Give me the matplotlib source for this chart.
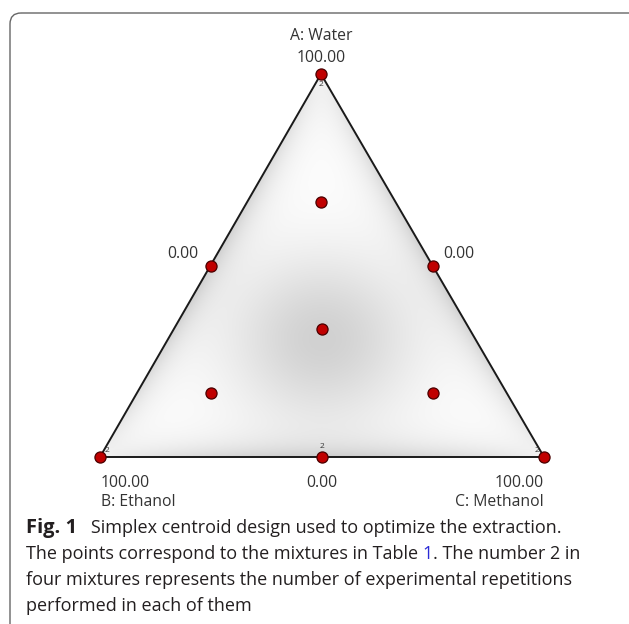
import numpy as np
import matplotlib
matplotlib.use("Agg")
import matplotlib.pyplot as plt
from matplotlib.patches import Polygon, FancyBboxPatch

# Mixture proportions (A: Water, B: Ethanol, C: Methanol)
water = [1.0, 0.0, 0.0, 0.5, 0.5, 0.0, 1/3, 2/3, 1/6, 1/6]
ethanol = [0.0, 1.0, 0.0, 0.5, 0.0, 0.5, 1/3, 1/6, 2/3, 1/6]
methanol = [0.0, 0.0, 1.0, 0.0, 0.5, 0.5, 1/3, 1/6, 1/6, 2/3]
replicates = [2, 2, 2, 1, 1, 2, 1, 1, 1, 1]

vertex_labels = ["A: Water", "B: Ethanol", "C: Methanol"]
vertex_ticks = ["100.00", "100.00", "100.00"]
edge_ticks = ["0.00", "0.00", "0.00"]

caption_lines = [
    [("Fig. 1", "bold", "#231f20"), ("   Simplex centroid design used to optimize the extraction.", "normal", "#231f20")],
    [("The points correspond to the mixtures in Table ", "normal", "#231f20"), ("1", "normal", "#2b2bd6"),
     (". The number 2 in", "normal", "#231f20")],
    [("four mixtures represents the number of experimental repetitions", "normal", "#231f20")],
    [("performed in each of them", "normal", "#231f20")],
]

W, H = 629, 624
fig = plt.figure(figsize=(W / 100, H / 100), dpi=100)
ax = fig.add_axes([0, 0, 1, 1])
ax.set_xlim(0, W)
ax.set_ylim(H, 0)
ax.axis("off")

FONT = "Open Sans"
TXT = "#333333"

# triangle corners in figure pixels: A (top), B (bottom-left), C (bottom-right)
VA = np.array([321.0, 74.0])
VB = np.array([100.0, 457.0])
VC = np.array([544.0, 457.0])


def to_xy(a, b, c):
    a, b, c = np.asarray(a), np.asarray(b), np.asarray(c)
    s = a + b + c
    x = (a * VA[0] + b * VB[0] + c * VC[0]) / s
    y = (a * VA[1] + b * VB[1] + c * VC[1]) / s
    return x, y


# outer rounded frame
frame = FancyBboxPatch((10, 13), 640, 640, boxstyle="round,pad=0,rounding_size=11",
                       fc="none", ec="#666666", lw=1.0, zorder=1)
ax.add_patch(frame)

# shaded surface inside the simplex
gx = np.arange(VB[0] - 2, VC[0] + 2, 1.0)
gy = np.arange(VA[1] - 2, VB[1] + 2, 1.0)
X, Y = np.meshgrid(gx, gy)
T = np.array([[VA[0] - VC[0], VB[0] - VC[0]], [VA[1] - VC[1], VB[1] - VC[1]]])
Ti = np.linalg.inv(T)
la = Ti[0, 0] * (X - VC[0]) + Ti[0, 1] * (Y - VC[1])
lb = Ti[1, 0] * (X - VC[0]) + Ti[1, 1] * (Y - VC[1])
lc = 1 - la - lb
hgt = VB[1] - VA[1]
cx, cy = to_xy(1/3, 1/3, 1/3)
r2 = ((X - cx) / 95.0) ** 2 + ((Y - (cy + 10)) / 85.0) ** 2
dark = 0.18 * np.exp(-r2)
for d, u, v in ((la, lb, lc), (lb, la, lc), (lc, la, lb)):
    dist = np.clip(d, 0, None) * hgt
    w = np.clip(4 * u * v, 0, 1) ** 0.5
    dark += 0.17 * np.exp(-dist / 16.0) * w
gray = np.clip(1 - dark, 0, 1)
img = np.dstack([gray, gray, gray])
im = ax.imshow(img, extent=(gx[0] - 0.5, gx[-1] + 0.5, gy[-1] + 0.5, gy[0] - 0.5),
               interpolation="bilinear", zorder=2)
tri = Polygon([VA, VB, VC], closed=True, fc="none", ec="#1a1a1a", lw=1.4, zorder=3,
              joinstyle="miter")
ax.add_patch(tri)
im.set_clip_path(tri)

# design points
px, py = to_xy(water, ethanol, methanol)
ax.plot(px, py, "o", ms=8, mfc="#c00000", mec="#4a0000", mew=0.9, zorder=5, ls="none")

# replicate counts next to the repeated runs
RFS = 6
for x, y, a, b, c, n in zip(px, py, water, ethanol, methanol, replicates):
    if n < 2:
        continue
    if a == 1:
        ax.text(x, y + 11, str(n), ha="center", va="center", fontsize=RFS, color=TXT, family=FONT, zorder=6)
    elif b == 1:
        ax.text(x + 5, y - 7, str(n), ha="left", va="center", fontsize=RFS, color=TXT, family=FONT, zorder=6)
    elif c == 1:
        ax.text(x - 5, y - 7, str(n), ha="right", va="center", fontsize=RFS, color=TXT, family=FONT, zorder=6)
    else:
        ax.text(x, y - 11, str(n), ha="center", va="center", fontsize=RFS, color=TXT, family=FONT, zorder=6)

LFS = 11.3
# vertex A
ax.text(VA[0], 40, vertex_labels[0], ha="center", va="baseline", fontsize=LFS, color=TXT, family=FONT)
ax.text(VA[0], 62, vertex_ticks[0], ha="center", va="baseline", fontsize=LFS, color=TXT, family=FONT)
# vertex B
ax.text(VB[0] + 1, 487, vertex_ticks[1], ha="left", va="baseline", fontsize=LFS, color=TXT, family=FONT)
ax.text(VB[0] + 1, 506, vertex_labels[1], ha="left", va="baseline", fontsize=LFS, color=TXT, family=FONT)
# vertex C
ax.text(VC[0], 487, vertex_ticks[2], ha="right", va="baseline", fontsize=LFS, color=TXT, family=FONT)
ax.text(VC[0], 506, vertex_labels[2], ha="right", va="baseline", fontsize=LFS, color=TXT, family=FONT)
# edge midpoints
mx, my = to_xy([0.5, 0.5, 0.0], [0.5, 0.0, 0.5], [0.0, 0.5, 0.5])
ax.text(mx[0] - 28, my[0] - 8, edge_ticks[0], ha="center", va="baseline", fontsize=LFS, color=TXT, family=FONT)
ax.text(mx[1] + 26, my[1] - 8, edge_ticks[1], ha="center", va="baseline", fontsize=LFS, color=TXT, family=FONT)
ax.text(mx[2], 487, edge_ticks[2], ha="center", va="baseline", fontsize=LFS, color=TXT, family=FONT)

# caption with mixed styles
fig.canvas.draw()
renderer = fig.canvas.get_renderer()
CFS = 13.0
y0 = 533
for i, line in enumerate(caption_lines):
    x = 26
    y = y0 + i * 26
    for txt, weight, col in line:
        size = 14.5 if weight == "bold" else CFS
        t = ax.text(x, y, txt, ha="left", va="baseline", fontsize=size, color=col,
                    family=FONT, fontweight=weight)
        bb = t.get_window_extent(renderer=renderer)
        x += bb.width

fig.savefig("out.png", dpi=100)
